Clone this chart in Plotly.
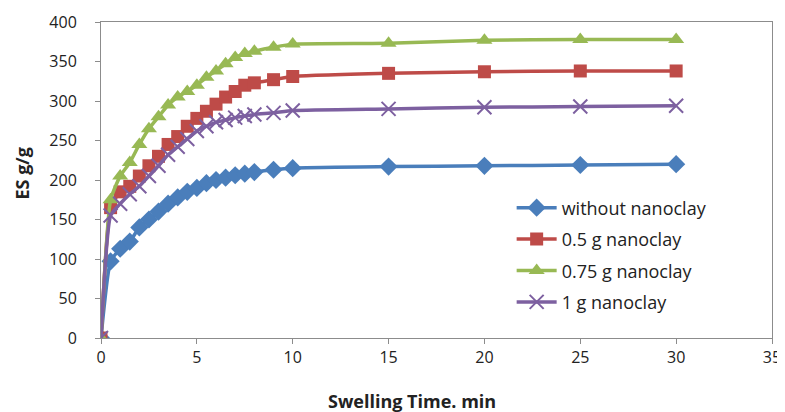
import plotly.graph_objects as go

time_min = [0, 0.5, 1, 1.5, 2, 2.5, 3, 3.5, 4, 4.5, 5, 5.5, 6, 6.5, 7, 7.5, 8, 9, 10, 15, 20, 25, 30]

es_without = [0, 97, 113, 122, 140, 150, 160, 170, 178, 185, 190, 196, 200, 203, 206, 208, 210, 213, 215, 217, 218, 219, 220]
es_05 = [0, 165, 185, 192, 205, 218, 230, 245, 255, 268, 278, 287, 296, 305, 312, 320, 323, 327, 331, 335, 337, 338, 338]
es_075 = [0, 175, 205, 222, 245, 265, 280, 295, 305, 312, 320, 330, 338, 347, 355, 360, 363, 368, 372, 373, 377, 378, 378]
es_1 = [0, 155, 170, 182, 192, 205, 218, 232, 242, 252, 262, 268, 273, 276, 279, 281, 283, 285, 288, 290, 292, 293, 294]

names = ["without nanoclay", "0.5 g nanoclay", "0.75 g nanoclay", "1 g nanoclay"]
colors = ["#4a7ebb", "#be4b48", "#98b954", "#7d60a0"]
symbols = ["diamond", "square", "triangle-up", "x-thin-open"]
sizes = [14, 13, 14, 14]

FONT = "Open Sans, Liberation Sans, sans-serif"

fig = go.Figure()
for i, (ys, n, c, s, sz) in enumerate(zip([es_without, es_05, es_075, es_1], names, colors, symbols, sizes)):
    marker = dict(symbol=s, size=sz, color=c)
    if s == "x-thin-open":
        marker["line"] = dict(color=c, width=2)
    fig.add_trace(go.Scatter(
        x=time_min, y=ys, name=n, mode="lines+markers", legendgroup=f"g{i}",
        line=dict(color=c, width=3.5, shape="spline", smoothing=0.5),
        marker=marker,
    ))

axis_common = dict(
    showgrid=False, zeroline=False, showline=True, linecolor="#8c8c8c", linewidth=1,
    ticks="outside", ticklen=5, tickcolor="#8c8c8c", mirror=True, automargin=False,
    tickfont=dict(family=FONT, size=16, color="#222"),
)

fig.update_layout(
    width=777, height=404,
    margin=dict(l=93, r=13, t=14, b=74),
    paper_bgcolor="white", plot_bgcolor="white",
    showlegend=True,
    legend=dict(x=0.612, y=0.47, xanchor="left", yanchor="top",
                font=dict(family=FONT, size=18, color="#222"),
                bgcolor="rgba(0,0,0,0)", tracegroupgap=5, itemwidth=40),
    xaxis=dict(range=[0, 35], dtick=5, **axis_common),
    yaxis=dict(range=[0, 400], dtick=50, ticklabelstandoff=15, **axis_common),
    annotations=[
        dict(text="<b>Swelling Time. min</b>", xref="paper", yref="paper", x=0.463, y=-0.2,
             xanchor="center", yanchor="middle", showarrow=False,
             font=dict(family=FONT, size=18, color="#222")),
        dict(text="<b>ES g/g</b>", xref="paper", yref="paper", x=-0.118, y=0.52, textangle=-90,
             xanchor="center", yanchor="middle", showarrow=False,
             font=dict(family=FONT, size=18, color="#222")),
    ],
)

fig.write_html("out.html")
